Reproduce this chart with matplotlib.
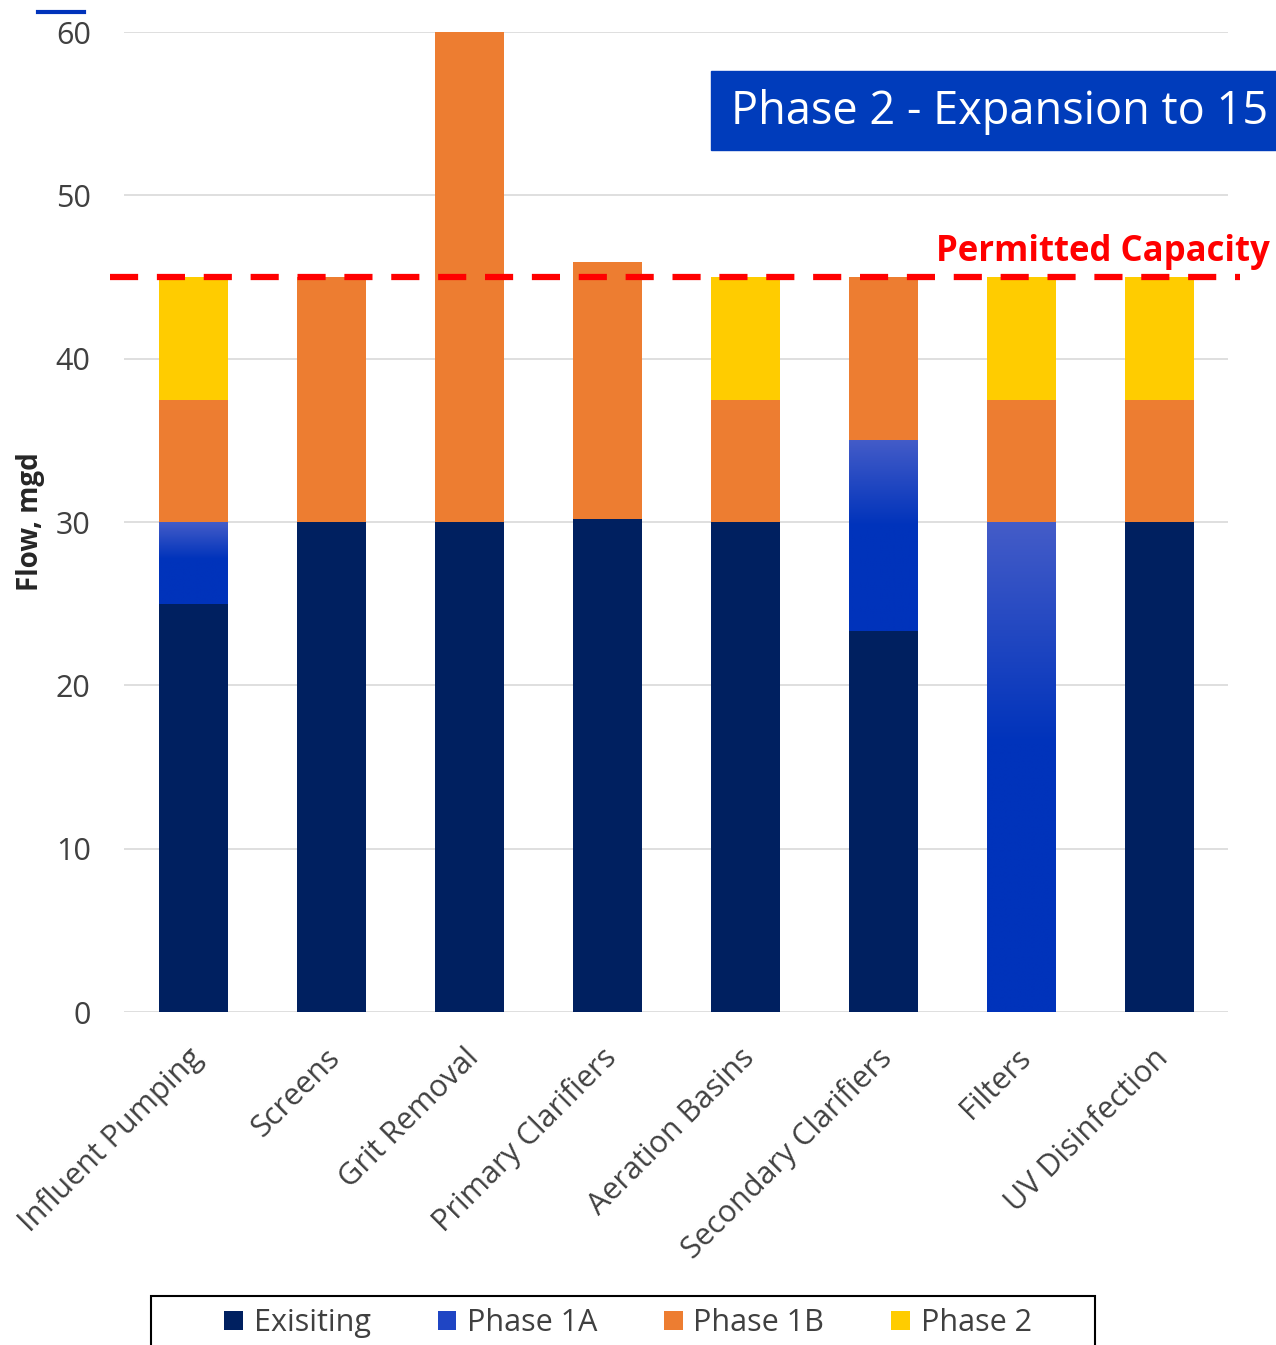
import numpy as np
import matplotlib
matplotlib.use("Agg")
import matplotlib.pyplot as plt
from matplotlib.patches import Rectangle, Patch
from matplotlib.lines import Line2D
import matplotlib.transforms as mtransforms

plt.rcParams['font.family'] = ['Open Sans', 'DejaVu Sans']

categories = ["Influent Pumping", "Screens", "Grit Removal", "Primary Clarifiers",
              "Aeration Basins", "Secondary Clarifiers", "Filters", "UV Disinfection"]
existing = [25.0, 30.0, 30.0, 30.2, 30.0, 23.3, 0.0, 30.0]
phase_1a = [5.0, 0.0, 0.0, 0.0, 0.0, 11.7, 30.0, 0.0]
phase_1b = [7.5, 15.0, 30.0, 15.7, 7.5, 10.0, 7.5, 7.5]
phase_2 = [7.5, 0.0, 0.0, 0.0, 7.5, 0.0, 7.5, 7.5]
series_names = ["Exisiting", "Phase 1A", "Phase 1B", "Phase 2"]
permitted_capacity = 45.0
y_ticks = [0, 10, 20, 30, 40, 50, 60]

C_EXIST = "#002060"
C_1A_TOP = np.array([0x44, 0x5c, 0xc8]) / 255
C_1A_BOT = np.array([0x00, 0x33, 0xbb]) / 255
C_1B = "#ed7d31"
C_2 = "#ffcc00"
TXT = "#404040"

W, H = 1276, 1345
fig = plt.figure(figsize=(W / 100, H / 100), dpi=100)
ax = fig.add_axes([124 / W, 1 - 1012 / H, 1104 / W, 980 / H])

x = np.arange(len(categories))
bw = 0.5
ex = np.array(existing)
a1 = np.array(phase_1a)
b1 = np.array(phase_1b)
p2 = np.array(phase_2)

ax.bar(x, ex, bw, color=C_EXIST, zorder=2)
# Phase 1A segments are filled with a vertical gradient (lighter at the top)
bars_1a = ax.bar(x, a1, bw, bottom=ex, color="none", zorder=2)
n = 200
t = np.linspace(0, 1, n)
f = np.clip(t / 0.45, 0, 1)[:, None]
grad = C_1A_TOP[None, :] * (1 - f) + C_1A_BOT[None, :] * f
grad = grad[:, None, :]
for xi, bot, h in zip(x, ex, a1):
    if h > 0:
        ax.imshow(grad, extent=(xi - bw / 2, xi + bw / 2, bot, bot + h),
                  aspect='auto', origin='upper', zorder=2, interpolation='bilinear')
ax.bar(x, b1, bw, bottom=ex + a1, color=C_1B, zorder=2)
ax.bar(x, p2, bw, bottom=ex + a1 + b1, color=C_2, zorder=2)

ax.set_xlim(-0.5, len(categories) - 0.5)
ax.set_ylim(0, 60)
ax.set_yticks(y_ticks)
ax.set_yticklabels([str(v) for v in y_ticks], fontsize=22, color=TXT)
ax.tick_params(axis='y', length=0, pad=24)
ax.tick_params(axis='x', length=0, pad=4)
ax.grid(axis='y', color="#d9d9d9", linewidth=1.2, zorder=0)
ax.set_axisbelow(True)
for s in ax.spines.values():
    s.set_visible(False)

ax.set_xticks(x)
ax.set_xticklabels(categories, rotation=45, ha='right', va='center',
                   rotation_mode='anchor', fontsize=22, color=TXT)
off = mtransforms.ScaledTranslation(5 / 100, -36 / 100, fig.dpi_scale_trans)
for lab in ax.get_xticklabels():
    lab.set_transform(lab.get_transform() + off)

fig.text(31 / W, 1 - 522 / H, "Flow, mgd", fontsize=20, fontweight='bold',
         color="#262626", rotation=90, ha='center', va='center')

# permitted capacity line
trans = mtransforms.blended_transform_factory(ax.transAxes, ax.transData)
ax.plot([-14 / 1104, 1116 / 1104], [permitted_capacity, permitted_capacity],
        transform=trans, color="#ff0000", linewidth=4.5, dashes=(4.5, 3.0),
        clip_on=False, zorder=5)
fig.text(1270 / W, 1 - 252 / H, "Permitted Capacity", color="#ff0000",
         fontsize=25, fontweight='bold', ha='right', va='center')

# title box
fig.patches.append(Rectangle((711 / W, 1 - 150 / H), 600 / W, 79 / H,
                             transform=fig.transFigure, color="#003cbb",
                             zorder=1))
fig.text(731 / W, 1 - 112 / H, "Phase 2 - Expansion to 15", color="white",
         fontsize=32.5, ha='left', va='center', zorder=2)

# small accent line at top left
fig.add_artist(Line2D([38 / W, 84 / W], [1 - 12 / H, 1 - 12 / H],
                      transform=fig.transFigure, color="#0033bb", linewidth=3))

# legend box
fig.patches.append(Rectangle((151 / W, 1 - 1380 / H), 944 / W, 84 / H,
                             transform=fig.transFigure, facecolor="white",
                             edgecolor="black", linewidth=1.5, zorder=1))
handles = [Patch(facecolor=C_EXIST), Patch(facecolor="#1f45c4"),
           Patch(facecolor=C_1B), Patch(facecolor=C_2)]
leg = fig.legend(handles, series_names, loc='center', ncol=4,
                 bbox_to_anchor=(628 / W, 1 - 1323 / H), frameon=False,
                 fontsize=22, handlelength=0.6, handleheight=0.6,
                 handletextpad=0.35, columnspacing=2.2)
for txt in leg.get_texts():
    txt.set_color(TXT)

fig.savefig("out.png", dpi=100)
